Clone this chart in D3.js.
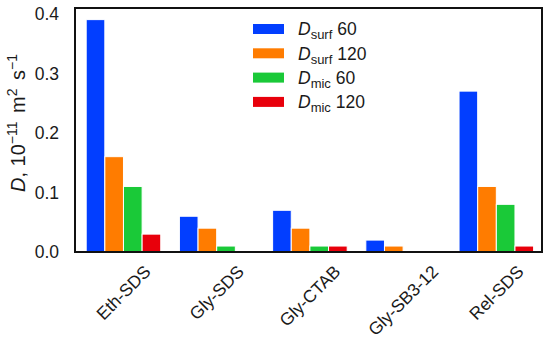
<!DOCTYPE html>
<html>
<head>
<meta charset="utf-8">
<script src="https://cdn.jsdelivr.net/npm/d3@7"></script>
<style>
  body { margin: 0; background: #fff; }
  text { font-family: "Liberation Sans", Arial, sans-serif; fill: #1a1a1a; }
</style>
</head>
<body>
<svg id="chart" width="550" height="346"></svg>
<script>
// data
var categories = ["Eth-SDS", "Gly-SDS", "Gly-CTAB", "Gly-SB3-12", "Rel-SDS"];
var seriesKeys = ["surf60", "surf120", "mic60", "mic120"];
var surf60  = [0.39, 0.06, 0.07, 0.02, 0.27];
var surf120 = [0.16, 0.04, 0.04, 0.01, 0.11];
var mic60   = [0.11, 0.01, 0.01, 0.001, 0.08];
var mic120  = [0.03, 0.0, 0.01, 0.0, 0.01];
var yTicks = [0.0, 0.1, 0.2, 0.3, 0.4];
var legendLabels = [["surf", "60"], ["surf", "120"], ["mic", "60"], ["mic", "120"]];
var colors = ["#023eff", "#ff7c00", "#1ac938", "#e8000b"];

var values = [surf60, surf120, mic60, mic120];

var svg = d3.select("#chart");
var margin = {top: 8, right: 8, bottom: 94, left: 75},
    width = 550 - margin.left - margin.right,
    height = 346 - margin.top - margin.bottom;

var g = svg.append("g").attr("transform", "translate(" + margin.left + "," + margin.top + ")");

// x positions like matplotlib: group i centred at i, bars of 0.2
var x = d3.scaleLinear().domain([-0.52, 4.49]).range([0, width]);
var y = d3.scaleLinear().domain([0, 0.4095]).range([height, 0]);
var barW = 0.2;

var bars = [];
categories.forEach(function(c, i) {
  seriesKeys.forEach(function(k, j) {
    bars.push({cat: c, i: i, j: j, value: values[j][i]});
  });
});

g.selectAll("rect.bar")
  .data(bars)
  .enter().append("rect")
    .attr("class", "bar")
    .attr("x", function(d) { return x(d.i - 0.4 + d.j * barW); })
    .attr("width", function(d) { return x(barW) - x(0); })
    .attr("y", function(d) { return y(d.value); })
    .attr("height", function(d) { return y(0) - y(d.value); })
    .attr("fill", function(d) { return colors[d.j]; })
    .attr("stroke", "#fff")
    .attr("stroke-width", 1);

// y axis labels (no tick marks)
g.append("g")
  .selectAll("text")
  .data(yTicks)
  .enter().append("text")
    .attr("x", -16)
    .attr("y", function(d) { return y(d); })
    .attr("dy", "0.36em")
    .attr("text-anchor", "end")
    .attr("font-size", 17.5)
    .text(function(d) { return d3.format(".1f")(d); });

// x labels rotated 45
g.append("g")
  .selectAll("text")
  .data(categories)
  .enter().append("text")
    .attr("font-size", 17.5)
    .attr("text-anchor", "middle")
    .attr("dominant-baseline", "central")
    .text(function(d) { return d; })
    .attr("transform", function(d, i) {
      var L = this.getComputedTextLength();
      var half = (L + 13) * Math.SQRT1_2 / 2;
      return "translate(" + x(i) + "," + (height + 12 + half) + ") rotate(-45)";
    });

// frame
g.append("rect")
  .attr("width", width).attr("height", height)
  .attr("fill", "none").attr("stroke", "#111").attr("stroke-width", 2);

// y label
var yl = svg.append("text")
  .attr("transform", "translate(25,123) rotate(-90)")
  .attr("text-anchor", "middle")
  .attr("font-size", 20);
yl.append("tspan").attr("font-style", "italic").text("D");
yl.append("tspan").text(", 10");
yl.append("tspan").attr("font-size", 14).attr("dy", -8).text("\u221211");
yl.append("tspan").attr("dy", 8).attr("dx", 3).text(" m");
yl.append("tspan").attr("font-size", 14).attr("dy", -8).text("2");
yl.append("tspan").attr("dy", 8).attr("dx", 3).text(" s");
yl.append("tspan").attr("font-size", 14).attr("dy", -8).text("\u22121");

// legend
var legend = svg.append("g")
  .selectAll("g")
  .data(legendLabels)
  .enter().append("g")
    .attr("transform", function(d, i) { return "translate(253," + (29 + i * 24.3) + ")"; });

legend.append("rect")
  .attr("x", 0).attr("y", -5)
  .attr("width", 31).attr("height", 10)
  .attr("fill", function(d, i) { return colors[i]; });

var lt = legend.append("text")
  .attr("x", 45)
  .attr("dy", "0.36em")
  .attr("font-size", 17.5);
lt.append("tspan").attr("font-style", "italic").text("D");
lt.append("tspan").attr("font-size", 13).attr("dy", 4).text(function(d) { return d[0]; });
lt.append("tspan").attr("dy", -4).text(function(d) { return " " + d[1]; });
</script>
</body>
</html>
